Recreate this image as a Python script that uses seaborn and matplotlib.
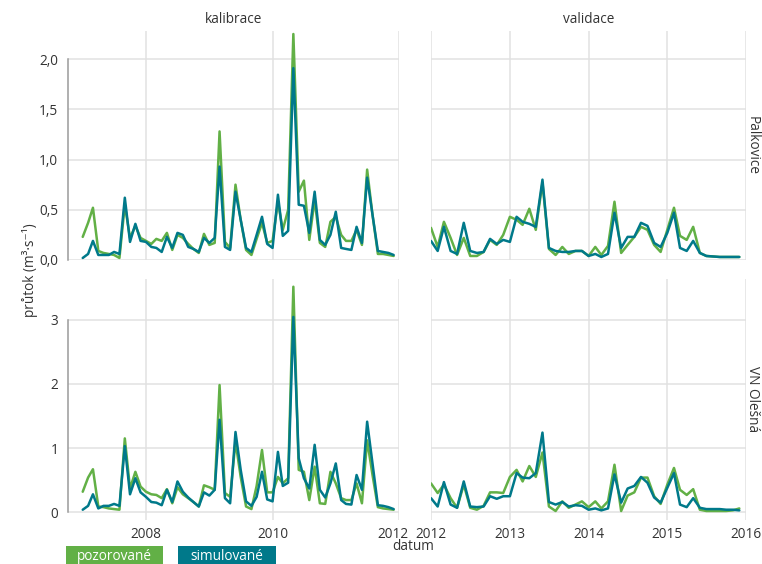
import numpy as np
import pandas as pd
import seaborn as sns
import matplotlib.pyplot as plt
import matplotlib.transforms as mtransforms
from matplotlib.patches import Rectangle

# ---------------- data (monthly means) ----------------
stanice = ['Palkovice', 'VN Olešná']
obdobi = ['kalibrace', 'validace']
typy = ['pozorované', 'simulované']

kal_datum = pd.date_range('2007-01-01', periods=60, freq='MS')
val_datum = pd.date_range('2012-01-01', periods=48, freq='MS')

palk_kal_poz = [0.23, 0.37, 0.52, 0.09, 0.07, 0.06, 0.05, 0.02, 0.55, 0.22,
                0.34, 0.22, 0.19, 0.16, 0.21, 0.19, 0.27, 0.10, 0.25, 0.22,
                0.16, 0.11, 0.07, 0.26, 0.15, 0.17, 1.28, 0.18, 0.12, 0.75,
                0.40, 0.10, 0.05, 0.21, 0.37, 0.17, 0.19, 0.58, 0.30, 0.50,
                2.25, 0.68, 0.79, 0.20, 0.60, 0.17, 0.13, 0.38, 0.43, 0.25,
                0.19, 0.19, 0.30, 0.15, 0.90, 0.45, 0.06, 0.06, 0.05, 0.04]
palk_kal_sim = [0.02, 0.06, 0.19, 0.05, 0.05, 0.05, 0.08, 0.06, 0.62, 0.18,
                0.36, 0.19, 0.18, 0.13, 0.12, 0.08, 0.23, 0.12, 0.27, 0.25,
                0.13, 0.11, 0.08, 0.22, 0.17, 0.22, 0.93, 0.13, 0.10, 0.68,
                0.40, 0.12, 0.08, 0.25, 0.43, 0.16, 0.12, 0.65, 0.24, 0.29,
                1.91, 0.55, 0.54, 0.27, 0.68, 0.20, 0.15, 0.25, 0.48, 0.12,
                0.11, 0.10, 0.33, 0.17, 0.82, 0.45, 0.09, 0.08, 0.07, 0.05]
palk_val_poz = [0.32, 0.13, 0.38, 0.22, 0.05, 0.22, 0.04, 0.04, 0.08, 0.20,
                0.15, 0.25, 0.43, 0.40, 0.35, 0.51, 0.30, 0.77, 0.11, 0.05,
                0.13, 0.06, 0.09, 0.09, 0.04, 0.13, 0.05, 0.14, 0.58, 0.07,
                0.15, 0.23, 0.33, 0.30, 0.15, 0.08, 0.30, 0.52, 0.24, 0.20,
                0.33, 0.07, 0.04, 0.035, 0.03, 0.03, 0.03, 0.03]
palk_val_sim = [0.19, 0.09, 0.33, 0.09, 0.06, 0.37, 0.09, 0.07, 0.08, 0.21,
                0.16, 0.20, 0.18, 0.43, 0.38, 0.36, 0.33, 0.80, 0.12, 0.09,
                0.08, 0.08, 0.09, 0.09, 0.04, 0.06, 0.03, 0.06, 0.47, 0.12,
                0.23, 0.23, 0.37, 0.34, 0.17, 0.13, 0.27, 0.47, 0.12, 0.09,
                0.19, 0.07, 0.04, 0.035, 0.03, 0.03, 0.03, 0.03]
oles_kal_poz = [0.32, 0.54, 0.67, 0.09, 0.08, 0.06, 0.05, 0.04, 1.15, 0.37,
                0.63, 0.40, 0.32, 0.28, 0.27, 0.22, 0.36, 0.14, 0.39, 0.28,
                0.22, 0.16, 0.09, 0.42, 0.39, 0.35, 1.98, 0.30, 0.24, 1.10,
                0.55, 0.09, 0.05, 0.41, 0.97, 0.31, 0.31, 0.55, 0.45, 0.53,
                3.51, 0.66, 0.63, 0.19, 0.71, 0.14, 0.13, 0.63, 0.45, 0.22,
                0.19, 0.19, 0.45, 0.14, 1.12, 0.58, 0.08, 0.06, 0.05, 0.04]
oles_kal_sim = [0.04, 0.10, 0.28, 0.06, 0.10, 0.10, 0.13, 0.10, 1.03, 0.28,
                0.53, 0.31, 0.24, 0.16, 0.15, 0.11, 0.35, 0.16, 0.48, 0.32,
                0.23, 0.16, 0.09, 0.31, 0.26, 0.35, 1.44, 0.22, 0.14, 1.25,
                0.66, 0.17, 0.10, 0.24, 0.63, 0.20, 0.17, 0.94, 0.41, 0.46,
                3.04, 0.84, 0.53, 0.37, 1.05, 0.35, 0.23, 0.45, 0.76, 0.19,
                0.13, 0.12, 0.58, 0.35, 1.41, 0.76, 0.11, 0.10, 0.08, 0.05]
oles_val_poz = [0.45, 0.30, 0.43, 0.22, 0.07, 0.43, 0.07, 0.04, 0.10, 0.31,
                0.31, 0.30, 0.55, 0.66, 0.48, 0.72, 0.55, 0.93, 0.09, 0.02,
                0.17, 0.07, 0.12, 0.17, 0.08, 0.17, 0.06, 0.17, 0.74, 0.02,
                0.26, 0.31, 0.54, 0.54, 0.25, 0.13, 0.43, 0.69, 0.35, 0.27,
                0.36, 0.04, 0.02, 0.02, 0.02, 0.02, 0.03, 0.06]
oles_val_sim = [0.22, 0.09, 0.47, 0.12, 0.07, 0.48, 0.09, 0.08, 0.09, 0.25,
                0.21, 0.25, 0.25, 0.61, 0.54, 0.53, 0.61, 1.24, 0.16, 0.12,
                0.16, 0.09, 0.11, 0.10, 0.04, 0.06, 0.03, 0.06, 0.59, 0.15,
                0.37, 0.41, 0.55, 0.46, 0.23, 0.15, 0.38, 0.61, 0.12, 0.08,
                0.22, 0.07, 0.05, 0.05, 0.05, 0.04, 0.04, 0.03]

serie = {
    ('Palkovice', 'kalibrace'): (kal_datum, palk_kal_poz, palk_kal_sim),
    ('Palkovice', 'validace'): (val_datum, palk_val_poz, palk_val_sim),
    ('VN Olešná', 'kalibrace'): (kal_datum, oles_kal_poz, oles_kal_sim),
    ('VN Olešná', 'validace'): (val_datum, oles_val_poz, oles_val_sim),
}

rows = []
for (st, ob), (dat, poz, sim) in serie.items():
    for typ, vals in zip(typy, [poz, sim]):
        rows.append(pd.DataFrame({'datum': dat, 'prutok': vals, 'typ': typ,
                                  'stanice': st, 'obdobi': ob}))
data = pd.concat(rows, ignore_index=True)

zelena = '#62b046'
modra = '#00798a'
paleta = {'pozorované': zelena, 'simulované': modra}
seda = '#333333'
fs = 9.8

# ---------------- plot ----------------
sns.set_theme(style='white')
plt.rcParams['font.family'] = ['Open Sans', 'DejaVu Sans']

g = sns.FacetGrid(data, row='stanice', col='obdobi', row_order=stanice,
                  col_order=obdobi, sharex=False, sharey='row',
                  height=2.5, aspect=1.3,
                  gridspec_kws={'width_ratios': [331, 315],
                                'height_ratios': [229, 241]})
g.map_dataframe(sns.lineplot, x='datum', y='prutok', hue='typ',
                hue_order=typy, palette=paleta, linewidth=1.8, legend=False)

fig = g.figure
fig.set_size_inches(7.62, 5.64)
fig.subplots_adjust(left=68/762, right=746/762, top=1-31/564,
                    bottom=1-520/564, wspace=0.099, hspace=0.081)

xlims = {'kalibrace': (pd.Timestamp('2006-10-08'), pd.Timestamp('2012-01-01')),
         'validace': (pd.Timestamp('2012-01-01'), pd.Timestamp('2016-01-01'))}
xt = {'kalibrace': ['2008', '2010', '2012'],
      'validace': ['2012', '2013', '2014', '2015', '2016']}
ylims = {'Palkovice': (0, 2.28), 'VN Olešná': (-0.12, 3.63)}
yt = {'Palkovice': ([0, 0.5, 1.0, 1.5, 2.0], ['0,0', '0,5', '1,0', '1,5', '2,0']),
      'VN Olešná': ([0, 1, 2, 3], ['0', '1', '2', '3'])}

for i, st in enumerate(stanice):
    for j, ob in enumerate(obdobi):
        ax = g.axes[i, j]
        ax.set_xlim(*xlims[ob])
        ax.set_xticks([pd.Timestamp(f'{r}-01-01') for r in xt[ob]])
        ax.set_xticklabels(xt[ob])
        ax.set_ylim(*ylims[st])
        ax.set_yticks(yt[st][0])
        ax.set_yticklabels(yt[st][1])
        ax.grid(True, color='#e1e1e1', linewidth=1.1)
        ax.set_axisbelow(True)
        for s in ax.spines.values():
            s.set_visible(False)
        if j == 0:
            ax.spines['left'].set_visible(True)
            ax.spines['left'].set_color('#9a9a9a')
            ax.spines['left'].set_linewidth(1.1)
            ax.spines['left'].set_bounds(0, yt[st][0][-1])
            ax.tick_params(axis='y', length=4, width=1, color='#9a9a9a',
                           labelsize=fs, labelcolor=seda, pad=3)
        else:
            ax.tick_params(axis='y', length=0, labelleft=False)
        ax.tick_params(axis='x', length=0, labelsize=fs, labelcolor=seda,
                       pad=5, labelbottom=(i == 1))
        ax.set_xlabel('')
        ax.set_ylabel('')
        ax.set_title('')
        if i == 0:
            ax.set_title(ob, fontsize=fs, color=seda, pad=6)
        if j == 1:
            ax.text(1.02, 0.5, st, transform=ax.transAxes, rotation=270,
                    ha='center', va='center', fontsize=fs, color=seda)

# nudge the last label of the left panel so it does not touch the right one
posun = mtransforms.ScaledTranslation(-6/100, 0, fig.dpi_scale_trans)
lab = g.axes[1, 0].get_xticklabels()[-1]
lab.set_transform(lab.get_transform() + posun)

fig.text(30/762, 1-270/564, 'průtok (m³·s⁻¹)', rotation=90, ha='center',
         va='center', fontsize=fs, color=seda)
fig.text(413/762, 1-547/564, 'datum', ha='center', va='center',
         fontsize=fs, color=seda)

# legend boxes
for x0, w, txt, col in [(66, 97, 'pozorované', zelena), (178, 98, 'simulované', modra)]:
    fig.patches.append(Rectangle((x0/762, 0), w/762, 18/564,
                                 transform=fig.transFigure, facecolor=col,
                                 edgecolor='none'))
    fig.text((x0 + w/2)/762, 1-556/564, txt, ha='center', va='center',
             fontsize=fs, color='white')

fig.savefig('out.png', dpi=100)
